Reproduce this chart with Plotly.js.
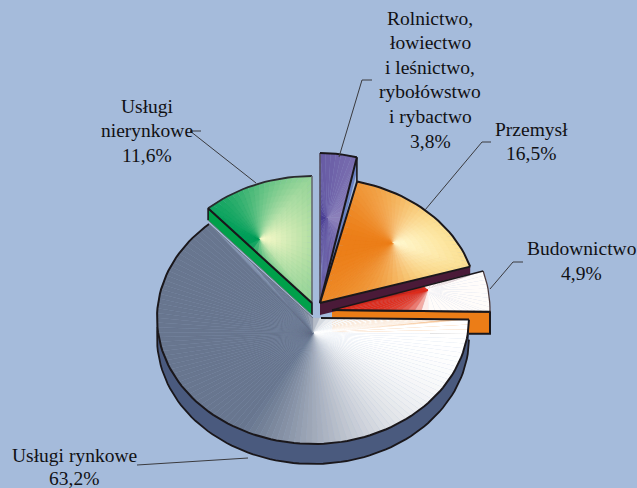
<!DOCTYPE html>
<html><head><meta charset="utf-8">
<script src="https://cdn.plot.ly/plotly-3.0.1.min.js"></script>
<style>html,body{margin:0;padding:0;background:#A5BBDB}</style></head>
<body><div id="chart" style="width:637px;height:488px"></div>
<script>
// ---- data ----
const categories = ["Rolnictwo", "Przemysł", "Budownictwo", "Usługi rynkowe", "Usługi nierynkowe"];
const shares = [3.8, 16.5, 4.9, 63.2, 11.6];
const labelLines = [
  ["Rolnictwo,", "łowiectwo", "i leśnictwo,", "rybołówstwo", "i rybactwo", "3,8%"],
  ["Przemysł", "16,5%"],
  ["Budownictwo", "4,9%"],
  ["Usługi rynkowe", "63,2%"],
  ["Usługi", "nierynkowe", "11,6%"]
];
// ---- drawing geometry (exploded, tilted pie) ----
const centreX = [320, 320, 332, 313, 312];
const centreY = [303, 303, 310, 318, 303];
const radiusX = [156, 157, 158, 156, 156];
const radiusY = [150, 125, 134, 126, 127];
const focusX = [327, 393, 428, 313, 260];
const focusY = [218, 243, 290, 333, 239];
const colourLeft = [[72,60,146],[236,126,24],[222,44,28],[104,118,143],[0,158,90]];
const colourRight = [[140,128,186],[252,226,150],[255,252,250],[255,255,255],[182,224,165]];
const colourGlow = [[118,106,172],[255,250,215],[255,255,255],[255,255,255],[255,252,205]];
const colourLow = [-1, -1, -0.96, -0.6, -1];
const colourHigh = [1, 1, -0.1, 1, 1];
const seamWidth = [0.25, 0.25, 0.25, 0.25, 0.25];
const sideDepth = [14, 12, 22, 20, 12];
const sideColour = ["#6A82C2", "#4A1A38", "#EC7D17", "#4A5A7E", "#00A04A"];
const bgColour = "#A5BBDB";
const inkColour = "#1A171B";
const labelX = [430, 531, 581, 74, 147];
const labelY = [18, 129, 248, 455, 106];
const labelStep = [24.6, 24.6, 25, 23, 24.6];
const leaderX = [[372,362,339],[491,482,425],[523,513,490],[137,248],[201,190,256]];
const leaderY = [[80,80,157],[142,142,210],[262,262,289],[465,458],[131,131,183]];
const glowSteps = [[1], [1,.9,.8,.7,.6,.5,.4,.3,.2,.1], [1], [1], [1,.9,.8,.7,.6,.5,.4,.3,.2,.1]];

// ---- scales ----
const traces = [];
let running = 0;
const startAngle = [], endAngle = [];
shares.forEach(v => { startAngle.push(running * 3.6); running += v; endAngle.push(running * 3.6); });

function rad(d){ return d * Math.PI / 180; }
function rimPoint(i, a, dy){
  return [centreX[i] + radiusX[i] * Math.sin(rad(a)), centreY[i] - radiusY[i] * Math.cos(rad(a)) + (dy || 0)];
}
function arc(i, a0, a1, dy){
  const n = Math.max(3, Math.ceil(Math.abs(a1 - a0) / 2.2)), out = [];
  for (let k = 0; k <= n; k++) out.push(rimPoint(i, a0 + (a1 - a0) * k / n, dy));
  return out;
}
function seg(p, q, n){
  const out = [];
  for (let k = 0; k < n; k++) out.push([p[0] + (q[0]-p[0])*k/n, p[1] + (q[1]-p[1])*k/n]);
  return out;
}
function poly(pts, colour, w){
  traces.push({type:"scatter", mode:"lines", x:pts.map(p=>p[0]).concat(pts[0][0]), y:pts.map(p=>p[1]).concat(pts[0][1]),
    fill:"toself", fillcolor:colour, line:{width:w || 0, color:colour}, hoverinfo:"skip", showlegend:false});
}
function stroke(pts, colour, width){
  traces.push({type:"scatter", mode:"lines", x:pts.map(p=>p[0]), y:pts.map(p=>p[1]),
    line:{width:width, color:colour}, hoverinfo:"skip", showlegend:false});
}
function mix(i, ux, radial){
  const t = Math.min(1, Math.max(0, (ux - colourLow[i]) / (colourHigh[i] - colourLow[i])));
  const c = colourLeft[i].map((v, j) => {
    const light = colourRight[i][j] + (colourGlow[i][j] - colourRight[i][j]) * (1 - radial);
    return Math.round(v + (light - v) * t);
  });
  return "rgb(" + c.join(",") + ")";
}
function drawFace(i){
  const apex = [centreX[i], centreY[i]];
  const a = arc(i, startAngle[i], endAngle[i]);
  const len = (p,q)=>Math.hypot(p[0]-q[0],p[1]-q[1]);
  const edge1 = seg(apex, a[0], Math.ceil(len(apex,a[0])/7));
  const edge2 = seg(a[a.length-1], apex, Math.ceil(len(apex,a[a.length-1])/7));
  const ring = edge1.concat(a, edge2);
  const f = [focusX[i], focusY[i]];
  glowSteps[i].forEach(r => {
    for (let k = 0; k < ring.length; k++){
      const p = ring[k], q = ring[(k+1) % ring.length];
      const mx = (p[0]+q[0])/2 - f[0], my = (p[1]+q[1])/2 - f[1];
      const sc = z => [f[0] + (z[0]-f[0]) * r, f[1] + (z[1]-f[1]) * r];
      poly([f, sc(p), sc(q)], mix(i, mx / (Math.hypot(mx,my) || 1), r), seamWidth[i]);
    }
  });
}
function cutSide(i, angle){
  const p = rimPoint(i, angle), c = [centreX[i], centreY[i]], d = sideDepth[i];
  poly([c, p, [p[0],p[1]+d], [c[0],c[1]+d]], sideColour[i]);
  return {c, p, d};
}

// Usługi nierynkowe
let s = cutSide(4, startAngle[4]);
stroke([[s.p[0],s.p[1]+s.d],[s.p[0],s.p[1]],[s.c[0],s.c[1]],[s.c[0],s.c[1]+s.d]], inkColour, 1.6);
stroke([[s.p[0],s.p[1]+s.d],[s.c[0],s.c[1]+s.d]], "#5E7A70", 1);
drawFace(4);
stroke(arc(4, startAngle[4], endAngle[4]), "#2A2A2E", 1.8);
stroke([rimPoint(4, 360), [centreX[4], centreY[4]]], "#666A72", 1.6);
stroke([rimPoint(4, startAngle[4]), [centreX[4], centreY[4]]], inkColour, 2);

// Rolnictwo
s = cutSide(0, endAngle[0]);
stroke([[s.p[0],s.p[1]],[s.p[0],s.p[1]+s.d+11]], inkColour, 1.6);
drawFace(0);
stroke([[centreX[0],centreY[0]], rimPoint(0, 0)], "#55505F", 1.6);
stroke(arc(0, 0, endAngle[0]), inkColour, 2);
stroke([rimPoint(0, endAngle[0]), [centreX[0],centreY[0]]], inkColour, 2);

// Budownictwo side and dark side of Przemysł
s = cutSide(2, endAngle[2]);
let sq = [[s.c[0],s.c[1]],[s.p[0],s.p[1]],[s.p[0],s.p[1]+s.d],[s.p[0]-60,s.p[1]+s.d]];
stroke(sq, inkColour, 2);
s = cutSide(1, endAngle[1]);
drawFace(2);
stroke(arc(2, startAngle[2], endAngle[2]), "#4A3A3E", 1.3);
stroke([rimPoint(2, startAngle[2]), [centreX[2],centreY[2]]], inkColour, 1.4);
stroke([[centreX[2],centreY[2]], rimPoint(2, endAngle[2])], inkColour, 2);

// Przemysł
drawFace(1);
stroke(arc(1, startAngle[1], endAngle[1]), inkColour, 2);
stroke([rimPoint(1, startAngle[1]), [centreX[1],centreY[1]], rimPoint(1, endAngle[1])], inkColour, 2);

// Usługi rynkowe
const rimTop = arc(3, startAngle[3], 275), rimLow = arc(3, startAngle[3], 275, sideDepth[3]);
poly(rimLow.concat(rimTop.slice().reverse()), sideColour[3]);
stroke(rimLow, inkColour, 1.8);
drawFace(3);
stroke(arc(3, startAngle[3], endAngle[3]), inkColour, 2);
stroke([[centreX[3]+8,centreY[3]], rimPoint(3, startAngle[3])], inkColour, 2);
stroke([rimPoint(3, endAngle[3]), [centreX[3],centreY[3]]], "#6E7686", 1);

// leaders
leaderX.forEach((xs, i) => stroke(xs.map((x, k) => [x, leaderY[i][k]]), "#3A3A3E", 1));

// labels
const annotations = [];
labelLines.forEach((lines, i) => lines.forEach((t, k) => annotations.push({
  text:t, x:labelX[i], y:labelY[i] + k * labelStep[i], xref:"x", yref:"y",
  xanchor:"center", yanchor:"middle", showarrow:false,
  font:{family:"'Liberation Serif', 'Times New Roman', serif", size:19.5, color:"#111114"}
})));

Plotly.newPlot("chart", traces, {
  width:637, height:488, margin:{l:0,r:0,t:0,b:0,pad:0},
  paper_bgcolor:bgColour, plot_bgcolor:bgColour, showlegend:false,
  xaxis:{range:[0,637], visible:false, fixedrange:true},
  yaxis:{range:[488,0], visible:false, fixedrange:true},
  annotations
}, {displayModeBar:false, staticPlot:true});
</script></body></html>
